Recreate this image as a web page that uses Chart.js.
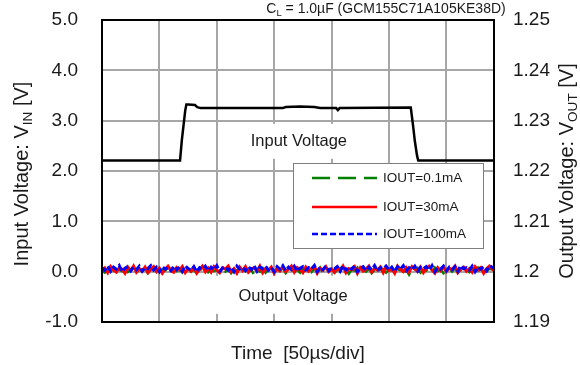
<!DOCTYPE html>
<html><head><meta charset="utf-8">
<script src="https://cdn.jsdelivr.net/npm/chart.js@4/dist/chart.umd.min.js"></script>
<style>html,body{margin:0;padding:0;background:#fff}#wrap{width:580px;height:365px;position:relative}</style>
</head><body><div id="wrap"><canvas id="c"></canvas></div>
<script>
const FONT = '"Liberation Sans", Arial, sans-serif';

// ---- axes / ticks ----
const xRange = [0, 6.83];               // time in divisions (50 µs/div)
const xGridTicks = [0, 1, 2, 3, 4, 5, 6];
const vinTicks = [-1, 0, 1, 2, 3, 4, 5];
const voutTicks = [1.19, 1.20, 1.21, 1.22, 1.23, 1.24, 1.25];

// ---- input voltage trace ----
const vinTime = [0, 1.36, 1.39, 1.42, 1.45, 1.47, 1.50, 1.62, 1.66, 1.72, 3.15, 3.20, 3.45, 3.70, 3.80, 4.08, 4.11, 4.14, 5.38, 5.42, 5.45, 5.49, 5.51, 6.83];
const vinValues = [2.21, 2.21, 2.60, 2.90, 3.20, 3.32, 3.32, 3.31, 3.27, 3.25, 3.25, 3.27, 3.28, 3.27, 3.25, 3.25, 3.21, 3.25, 3.26, 2.90, 2.60, 2.30, 2.21, 2.21];

// ---- output voltage traces ----
const voutTime = [
 0.00,0.05,0.10,0.15,0.20,0.25,0.30,0.35,0.40,0.45,
 0.50,0.55,0.60,0.65,0.70,0.75,0.80,0.85,0.90,0.95,
 1.00,1.05,1.10,1.15,1.20,1.25,1.30,1.35,1.40,1.45,
 1.50,1.55,1.60,1.65,1.70,1.75,1.80,1.85,1.90,1.95,
 2.00,2.05,2.10,2.15,2.20,2.25,2.30,2.35,2.40,2.45,
 2.50,2.55,2.60,2.65,2.70,2.75,2.80,2.85,2.90,2.95,
 3.00,3.05,3.10,3.15,3.20,3.25,3.30,3.35,3.40,3.45,
 3.50,3.55,3.60,3.65,3.70,3.75,3.80,3.85,3.90,3.95,
 4.00,4.05,4.10,4.15,4.20,4.25,4.30,4.35,4.40,4.45,
 4.50,4.55,4.60,4.65,4.70,4.75,4.80,4.85,4.90,4.95,
 5.00,5.05,5.10,5.15,5.20,5.25,5.30,5.35,5.40,5.45,
 5.50,5.55,5.60,5.65,5.70,5.75,5.80,5.85,5.90,5.95,
 6.00,6.05,6.10,6.15,6.20,6.25,6.30,6.35,6.40,6.45,
 6.50,6.55,6.60,6.65,6.70,6.75,6.83];
const vout100mA = [
 1.2008,1.2003,1.2011,1.2001,1.2009,1.2005,1.2012,1.2000,1.2007,1.2010,
 1.2002,1.2009,1.2004,1.2011,1.2001,1.2008,1.2006,1.2012,1.2003,1.2009,
 1.2000,1.2010,1.2005,1.2008,1.2002,1.2011,1.2004,1.2009,1.2001,1.2012,
 1.2006,1.2003,1.2010,1.2000,1.2008,1.2005,1.2011,1.2002,1.2009,1.2004,
 1.2012,1.2001,1.2007,1.2010,1.2003,1.2009,1.2000,1.2011,1.2005,1.2008,
 1.2002,1.2010,1.2004,1.2012,1.2001,1.2009,1.2006,1.2011,1.2003,1.2008,
 1.2000,1.2010,1.2005,1.2012,1.2002,1.2009,1.2004,1.2011,1.2001,1.2007,
 1.2010,1.2003,1.2008,1.2005,1.2012,1.2000,1.2009,1.2004,1.2011,1.2002,
 1.2008,1.2006,1.2010,1.2001,1.2012,1.2003,1.2009,1.2005,1.2011,1.2000,
 1.2007,1.2010,1.2002,1.2009,1.2004,1.2012,1.2001,1.2008,1.2006,1.2011,
 1.2003,1.2009,1.2000,1.2010,1.2005,1.2012,1.2002,1.2008,1.2004,1.2011,
 1.2001,1.2009,1.2006,1.2010,1.2003,1.2012,1.2000,1.2008,1.2005,1.2011,
 1.2002,1.2009,1.2004,1.2010,1.2001,1.2012,1.2006,1.2008,1.2003,1.2011,
 1.2000,1.2009,1.2005,1.2010,1.2002,1.2012,1.2007];
const vout30mA = [
 1.2000,1.2007,1.1998,1.2010,1.2003,1.1999,1.2008,1.2005,1.1997,1.2009,
 1.2002,1.2011,1.1999,1.2006,1.2001,1.2009,1.1998,1.2004,1.2010,1.2000,
 1.2007,1.1997,1.2005,1.2011,1.2002,1.1999,1.2008,1.2003,1.2010,1.1998,
 1.2006,1.2001,1.2009,1.1997,1.2004,1.2011,1.2000,1.2007,1.1999,1.2010,
 1.2003,1.1998,1.2008,1.2005,1.2011,1.2000,1.2006,1.1997,1.2009,1.2002,
 1.2010,1.1999,1.2005,1.2008,1.2001,1.2011,1.1998,1.2006,1.2003,1.2009,
 1.1997,1.2007,1.2002,1.2010,1.2000,1.2005,1.2011,1.1999,1.2008,1.2004,
 1.1998,1.2009,1.2001,1.2006,1.2011,1.1997,1.2007,1.2003,1.2010,1.2000,
 1.2005,1.1999,1.2009,1.2002,1.2011,1.1998,1.2006,1.2004,1.2010,1.1997,
 1.2008,1.2001,1.2005,1.2011,1.1999,1.2007,1.2003,1.2009,1.1998,1.2010,
 1.2002,1.2006,1.1997,1.2011,1.2004,1.2000,1.2008,1.1999,1.2010,1.2005,
 1.2001,1.2009,1.1998,1.2006,1.2011,1.2003,1.1997,1.2008,1.2002,1.2010,
 1.2000,1.2007,1.2004,1.2011,1.1998,1.2005,1.2009,1.2001,1.2006,1.1999,
 1.2010,1.2003,1.2008,1.1997,1.2006,1.2011,1.2002];
const vout01mA = [
 1.2002,1.1998,1.2005,1.2000,1.2007,1.1997,1.2004,1.2001,1.2006,1.1999,
 1.2003,1.2008,1.1998,1.2005,1.2001,1.2006,1.1997,1.2003,1.2000,1.2007,
 1.1999,1.2004,1.2002,1.2008,1.1997,1.2005,1.2001,1.2006,1.1998,1.2003,
 1.2007,1.2000,1.2004,1.1997,1.2006,1.2002,1.2008,1.1999,1.2005,1.2001,
 1.2003,1.1998,1.2007,1.2000,1.2005,1.1997,1.2004,1.2002,1.2006,1.1999,
 1.2008,1.2001,1.2005,1.1993,1.2003,1.2000,1.2007,1.1998,1.2004,1.2006,
 1.1999,1.2005,1.2001,1.2008,1.1997,1.2003,1.2006,1.2000,1.2004,1.1998,
 1.2007,1.2002,1.2005,1.1999,1.2006,1.2001,1.2008,1.1997,1.2004,1.2000,
 1.2006,1.1998,1.2003,1.2007,1.2001,1.2005,1.1996,1.2004,1.2002,1.2008,
 1.1999,1.2005,1.2000,1.2006,1.1997,1.2003,1.2007,1.2001,1.2005,1.1998,
 1.2004,1.2002,1.2008,1.1999,1.2006,1.2000,1.2003,1.1994,1.2005,1.2001,
 1.2007,1.1998,1.2004,1.2002,1.2006,1.1999,1.2008,1.2001,1.2005,1.1997,
 1.2003,1.2006,1.2000,1.2007,1.1998,1.2004,1.2002,1.2005,1.1999,1.2006,
 1.2001,1.2008,1.1998,1.2004,1.2000,1.2006,1.2003];

const seriesNames = ['IOUT=0.1mA', 'IOUT=30mA', 'IOUT=100mA'];

const pts = (xs, ys) => xs.map((x, i) => ({x: x, y: ys[i]}));

// draw text with subscripts
function drawRich(ctx, parts, x, y, size, align) {
  let w = 0;
  parts.forEach(p => { ctx.font = (p.sub ? size * 0.68 : size) + 'px ' + FONT; w += ctx.measureText(p.t).width; });
  let cx = align === 'center' ? x - w / 2 : x;
  ctx.textAlign = 'left';
  ctx.textBaseline = 'alphabetic';
  parts.forEach(p => {
    ctx.font = (p.sub ? size * 0.68 : size) + 'px ' + FONT;
    ctx.fillText(p.t, cx, y + (p.sub ? size * 0.22 : 0));
    cx += ctx.measureText(p.t).width;
  });
}

const decor = {
  id: 'decor',
  beforeDatasetsDraw(chart) {
    const {ctx} = chart;
    const xs = chart.scales.x, ys = chart.scales.y;
    ctx.save();
    ctx.fillStyle = '#fff';
    let cx = xs.getPixelForValue(3.43), cy = ys.getPixelForValue(2.58);
    ctx.fillRect(cx - 70, cy - 18, 140, 35);
    cx = xs.getPixelForValue(3.33); cy = ys.getPixelForValue(-0.5);
    ctx.fillRect(cx - 80, cy - 21, 162, 38);
    ctx.restore();
  },
  afterDatasetsDraw(chart) {
    const {ctx, chartArea: ca} = chart;
    const xs = chart.scales.x, ys = chart.scales.y;
    ctx.save();
    // frame
    ctx.strokeStyle = '#000';
    ctx.lineWidth = 2;
    ctx.strokeRect(ca.left, ca.top, ca.right - ca.left, ca.bottom - ca.top);
    // in-plot labels
    ctx.fillStyle = '#1a1a1a';
    ctx.font = '16.5px ' + FONT;
    ctx.textAlign = 'center';
    ctx.textBaseline = 'middle';
    ctx.fillText('Input Voltage', xs.getPixelForValue(3.43), ys.getPixelForValue(2.58));
    ctx.fillText('Output Voltage', xs.getPixelForValue(3.33), ys.getPixelForValue(-0.5));
    // legend
    const bx = ca.left + 191, by = ca.top + 143, bw = 190, bh = 85;
    ctx.fillStyle = '#fff';
    ctx.fillRect(bx, by, bw, bh);
    ctx.strokeStyle = '#7f7f7f';
    ctx.lineWidth = 1;
    ctx.strokeRect(bx + 0.5, by + 0.5, bw, bh);
    const rows = [15, 44, 71];
    const order = [2, 1, 0];
    order.forEach((di, r) => {
      const ds = chart.data.datasets[di];
      const yy = by + rows[r];
      ctx.beginPath();
      ctx.setLineDash(ds.borderDash || []);
      ctx.strokeStyle = ds.borderColor;
      ctx.lineWidth = 2.5;
      ctx.moveTo(bx + 19, yy);
      ctx.lineTo(bx + 84, yy);
      ctx.stroke();
      ctx.setLineDash([]);
      ctx.fillStyle = '#1a1a1a';
      ctx.font = '13.5px ' + FONT;
      ctx.textAlign = 'left';
      ctx.textBaseline = 'middle';
      ctx.fillText(ds.label, bx + 90, yy);
    });
    // chart title (top right)
    ctx.fillStyle = '#1a1a1a';
    drawRich(ctx, [{t: 'C'}, {t: 'L', sub: true}, {t: ' = 1.0µF (GCM155C71A105KE38D)'}], ca.right - 108, 13, 14, 'center');
    // x title
    ctx.font = '19px ' + FONT;
    ctx.textAlign = 'center';
    ctx.textBaseline = 'alphabetic';
    ctx.fillText('Time  [50µs/div]', (ca.left + ca.right) / 2, 359);
    // left title
    const midY = (ca.top + ca.bottom) / 2;
    ctx.save();
    ctx.translate(28, midY + 3);
    ctx.rotate(-Math.PI / 2);
    drawRich(ctx, [{t: 'Input Voltage: V'}, {t: 'IN', sub: true}, {t: ' [V]'}], 0, 0, 20, 'center');
    ctx.restore();
    // right title
    ctx.save();
    ctx.translate(573, midY);
    ctx.rotate(-Math.PI / 2);
    drawRich(ctx, [{t: 'Output Voltage: V'}, {t: 'OUT', sub: true}, {t: ' [V]'}], 0, 0, 20, 'center');
    ctx.restore();
    ctx.restore();
  }
};

const gridColor = '#a6a6a6';
const noPad = s => { s.paddingTop = 0; s.paddingBottom = 0; };

new Chart(document.getElementById('c'), {
  type: 'line',
  data: {
    datasets: [
      {label: seriesNames[2], data: pts(voutTime, vout100mA), yAxisID: 'y2', borderColor: '#0000ff', borderWidth: 3, borderDash: [6, 3], pointRadius: 0, fill: false, tension: 0, order: 1},
      {label: seriesNames[1], data: pts(voutTime, vout30mA), yAxisID: 'y2', borderColor: '#ff0000', borderWidth: 3, pointRadius: 0, fill: false, tension: 0, order: 2},
      {label: seriesNames[0], data: pts(voutTime, vout01mA), yAxisID: 'y2', borderColor: '#008000', borderWidth: 2.5, borderDash: [18, 8], pointRadius: 0, fill: false, tension: 0, order: 3},
      {label: 'VIN', data: pts(vinTime, vinValues), yAxisID: 'y', borderColor: '#000', borderWidth: 2.5, pointRadius: 0, fill: false, tension: 0, order: 0}
    ]
  },
  options: {
    responsive: true,
    maintainAspectRatio: false,
    animation: false,
    events: [],
    layout: {padding: {top: 20, left: 0, right: 0, bottom: 0}},
    plugins: {legend: {display: false}, tooltip: {enabled: false}, title: {display: false}},
    scales: {
      x: {
        type: 'linear', min: xRange[0], max: xRange[1],
        afterBuildTicks: s => { s.ticks = xGridTicks.map(v => ({value: v})); },
        afterFit: s => { s.height = 43; s.paddingLeft = 0; s.paddingRight = 0; },
        ticks: {display: false},
        grid: {color: gridColor, lineWidth: 2, drawTicks: false},
        border: {display: false}
      },
      y: {
        position: 'left', min: vinTicks[0], max: vinTicks[vinTicks.length - 1],
        afterBuildTicks: s => { s.ticks = vinTicks.map(v => ({value: v})); },
        afterFit: s => { s.width = 102; noPad(s); },
        ticks: {padding: 24, color: '#1a1a1a', font: {family: FONT, size: 19}, callback: v => v.toFixed(1)},
        grid: {color: gridColor, lineWidth: 2, drawTicks: false},
        border: {display: false}
      },
      y2: {
        position: 'right', min: voutTicks[0], max: voutTicks[voutTicks.length - 1],
        afterBuildTicks: s => { s.ticks = voutTicks.map(v => ({value: v})); },
        afterFit: s => { s.width = 86; noPad(s); },
        ticks: {padding: 19, color: '#1a1a1a', font: {family: FONT, size: 19}, callback: v => String(Number(v.toFixed(2)))},
        grid: {display: false, drawTicks: false},
        border: {display: false}
      }
    }
  },
  plugins: [decor]
});
</script></body></html>
